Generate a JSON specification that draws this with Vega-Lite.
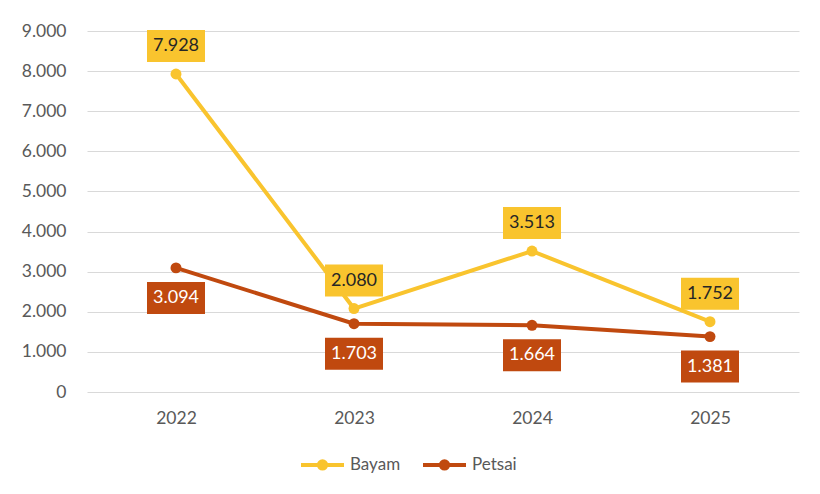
{
  "$schema": "https://vega.github.io/schema/vega-lite/v6.json",
  "width": 712,
  "height": 361,
  "autosize": "none",
  "padding": {"left": 87, "top": 31, "right": 21, "bottom": 102},
  "background": "white",
  "config": {
    "locale": {"number": {"decimal": ",", "thousands": ".", "grouping": [3], "currency": ["Rp", ""]}},
    "view": {"stroke": null},
    "font": "Lato"
  },
  "data": {
    "values": [
      {"year": "2022", "series": "Bayam", "value": 7928},
      {"year": "2023", "series": "Bayam", "value": 2080},
      {"year": "2024", "series": "Bayam", "value": 3513},
      {"year": "2025", "series": "Bayam", "value": 1752},
      {"year": "2022", "series": "Petsai", "value": 3094},
      {"year": "2023", "series": "Petsai", "value": 1703},
      {"year": "2024", "series": "Petsai", "value": 1664},
      {"year": "2025", "series": "Petsai", "value": 1381}
    ]
  },
  "encoding": {
    "x": {
      "field": "year", "type": "ordinal",
      "scale": {"paddingInner": 0, "paddingOuter": 0},
      "axis": {"title": null, "domain": false, "ticks": false, "labelAngle": 0, "labelFont": "Lato", "labelFontSize": 17.5, "labelColor": "#595959", "labelPadding": 17}
    },
    "y": {
      "field": "value", "type": "quantitative",
      "scale": {"domain": [0, 9000], "nice": false},
      "axis": {"title": null, "domain": false, "ticks": false, "values": [0,1000,2000,3000,4000,5000,6000,7000,8000,9000], "format": ",d", "labelFont": "Lato", "labelFontSize": 17.5, "labelColor": "#595959", "labelPadding": 21, "gridColor": "#D9D9D9", "gridWidth": 1}
    },
    "color": {
      "field": "series", "type": "nominal",
      "scale": {"domain": ["Bayam", "Petsai"], "range": ["#F9C42E", "#C0490F"]},
      "legend": {
        "title": null, "orient": "none", "direction": "horizontal",
        "legendX": 212, "legendY": 410,
        "symbolType": "M-1,0L1,0M-0.17,0A0.17,0.17,0,1,1,0.17,0A0.17,0.17,0,1,1,-0.17,0Z",
        "symbolSize": 1849, "symbolStrokeWidth": 4,
        "labelFont": "Lato", "labelFontSize": 17, "labelColor": "#595959",
        "labelOffset": 4, "columnPadding": 14
      }
    }
  },
  "layer": [
    {"mark": {"type": "line", "strokeWidth": 4}},
    {"mark": {"type": "point", "filled": true, "size": 120, "opacity": 1}},
    {
      "mark": {"type": "point", "filled": true, "opacity": 1, "size": 3364,
               "shape": "M-1,-0.552L1,-0.552L1,0.552L-1,0.552Z",
               "yOffset": {"expr": "datum.series == 'Bayam' ? -28 : 30"}}
    },
    {
      "mark": {"type": "text", "fontSize": 18, "font": "Lato", "baseline": "middle", "align": "center",
               "yOffset": {"expr": "datum.series == 'Bayam' ? -28 : 30"}},
      "encoding": {
        "text": {"field": "value", "type": "quantitative", "format": ",d"},
        "color": {"condition": {"test": "datum.series == 'Bayam'", "value": "#262626"}, "value": "#FFFFFF"}
      }
    }
  ]
}
